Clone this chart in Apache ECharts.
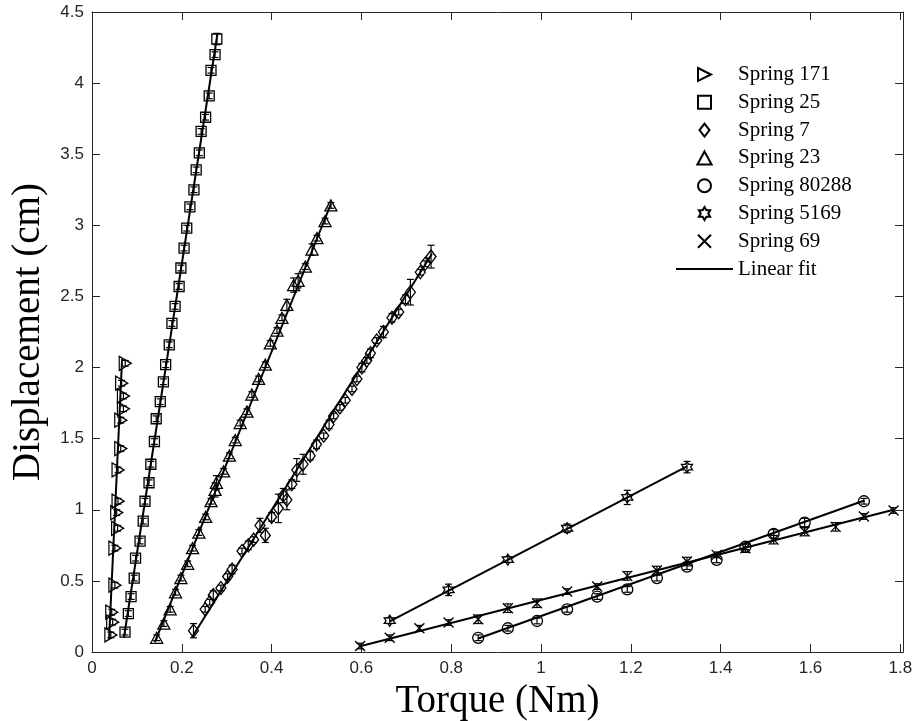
<!DOCTYPE html>
<html>
<head>
<meta charset="utf-8">
<script src="https://cdn.jsdelivr.net/npm/echarts@6/dist/echarts.min.js"></script>
<style>
  html, body { margin: 0; padding: 0; background: #fff; }
  #chart { width: 915px; height: 721px; }
</style>
</head>
<body>
<div id="chart"></div>
<script>
// each point: [torque, displacement, error]
var spring171 = [
  [0.042, 0.12, 0.02], [0.046, 0.21, 0.02], [0.044, 0.28, 0.02], [0.051, 0.47, 0.02],
  [0.051, 0.73, 0.02], [0.057, 0.87, 0.02], [0.055, 0.98, 0.02], [0.058, 1.06, 0.02],
  [0.058, 1.28, 0.02], [0.064, 1.43, 0.02], [0.064, 1.63, 0.02], [0.070, 1.71, 0.02],
  [0.070, 1.80, 0.02], [0.066, 1.89, 0.02], [0.074, 2.03, 0.02]
];
var spring25 = [
  [0.0735, 0.14, 0.02], [0.081, 0.27, 0.02], [0.087, 0.39, 0.02], [0.094, 0.52, 0.02],
  [0.097, 0.66, 0.02], [0.107, 0.78, 0.02], [0.114, 0.92, 0.02], [0.118, 1.06, 0.02],
  [0.127, 1.19, 0.02], [0.131, 1.32, 0.02], [0.139, 1.48, 0.02], [0.143, 1.64, 0.02],
  [0.152, 1.76, 0.02], [0.159, 1.90, 0.02], [0.164, 2.02, 0.02], [0.172, 2.16, 0.02],
  [0.178, 2.31, 0.02], [0.185, 2.43, 0.02], [0.194, 2.57, 0.02], [0.198, 2.70, 0.02],
  [0.205, 2.84, 0.02], [0.211, 2.98, 0.02], [0.218, 3.13, 0.02], [0.227, 3.25, 0.02],
  [0.232, 3.39, 0.02], [0.239, 3.51, 0.02], [0.243, 3.66, 0.02], [0.253, 3.76, 0.02],
  [0.261, 3.91, 0.02], [0.265, 4.09, 0.02], [0.274, 4.20, 0.02], [0.278, 4.31, 0.04]
];
var spring7 = [
  [0.226, 0.15, 0.05], [0.252, 0.30, 0.02], [0.262, 0.35, 0.02], [0.270, 0.40, 0.03],
  [0.287, 0.45, 0.02], [0.302, 0.53, 0.02], [0.312, 0.58, 0.03], [0.334, 0.71, 0.02],
  [0.348, 0.75, 0.03], [0.360, 0.79, 0.02], [0.374, 0.89, 0.05], [0.386, 0.82, 0.05],
  [0.400, 0.95, 0.03], [0.415, 1.01, 0.10], [0.426, 1.10, 0.05], [0.434, 1.07, 0.07],
  [0.445, 1.18, 0.03], [0.456, 1.28, 0.08], [0.470, 1.32, 0.07], [0.486, 1.38, 0.03],
  [0.500, 1.46, 0.03], [0.516, 1.52, 0.02], [0.528, 1.60, 0.03], [0.538, 1.66, 0.02],
  [0.552, 1.72, 0.02], [0.564, 1.77, 0.02], [0.579, 1.85, 0.02], [0.590, 1.92, 0.02],
  [0.601, 2.00, 0.03], [0.612, 2.05, 0.02], [0.620, 2.10, 0.03], [0.634, 2.19, 0.02],
  [0.649, 2.25, 0.04], [0.668, 2.35, 0.03], [0.683, 2.39, 0.02], [0.698, 2.48, 0.03],
  [0.709, 2.53, 0.09], [0.731, 2.67, 0.02], [0.742, 2.73, 0.02], [0.755, 2.78, 0.08]
];
var spring23 = [
  [0.144, 0.10, 0.02], [0.160, 0.20, 0.02], [0.174, 0.30, 0.02], [0.186, 0.42, 0.02],
  [0.198, 0.52, 0.02], [0.213, 0.62, 0.02], [0.224, 0.73, 0.02], [0.238, 0.84, 0.02],
  [0.253, 0.95, 0.02], [0.265, 1.06, 0.02], [0.274, 1.14, 0.05], [0.277, 1.19, 0.05],
  [0.293, 1.27, 0.02], [0.306, 1.38, 0.02], [0.319, 1.49, 0.02], [0.330, 1.61, 0.02],
  [0.345, 1.69, 0.02], [0.356, 1.81, 0.02], [0.371, 1.92, 0.02], [0.386, 2.02, 0.02],
  [0.397, 2.17, 0.02], [0.412, 2.26, 0.02], [0.423, 2.35, 0.02], [0.434, 2.44, 0.04],
  [0.449, 2.58, 0.05], [0.459, 2.61, 0.05], [0.475, 2.71, 0.02], [0.490, 2.83, 0.04],
  [0.501, 2.91, 0.02], [0.519, 3.03, 0.02], [0.532, 3.14, 0.02]
];
var spring80288 = [
  [0.860, 0.10, 0.02], [0.926, 0.167, 0.02], [0.991, 0.218, 0.02], [1.058, 0.30, 0.02],
  [1.125, 0.39, 0.02], [1.192, 0.44, 0.02], [1.258, 0.52, 0.02], [1.325, 0.60, 0.02],
  [1.391, 0.648, 0.02], [1.455, 0.74, 0.02], [1.518, 0.83, 0.03], [1.587, 0.91, 0.03],
  [1.719, 1.06, 0.02]
];
var spring5169 = [
  [0.663, 0.22, 0.02], [0.794, 0.437, 0.04], [0.926, 0.65, 0.02], [1.058, 0.87, 0.03],
  [1.192, 1.087, 0.05], [1.325, 1.30, 0.04]
];
var spring69 = [
  [0.597, 0.042, 0.02], [0.663, 0.10, 0.02], [0.729, 0.167, 0.02], [0.794, 0.207, 0.02],
  [0.860, 0.23, 0.03], [0.926, 0.308, 0.03], [0.991, 0.343, 0.03], [1.058, 0.425, 0.02],
  [1.125, 0.46, 0.02], [1.192, 0.535, 0.03], [1.258, 0.573, 0.03], [1.325, 0.636, 0.03],
  [1.391, 0.683, 0.02], [1.455, 0.73, 0.03], [1.518, 0.79, 0.03], [1.587, 0.847, 0.03],
  [1.656, 0.88, 0.03], [1.719, 0.953, 0.02], [1.785, 0.995, 0.02]
];

// linear fit end points
var fit171 = [[0.038, 0.09], [0.067, 2.06]];
var fit25 = [[0.071, 0.10], [0.279, 4.34]];
var fit7 = [[0.222, 0.10], [0.757, 2.80]];
var fit23 = [[0.140, 0.07], [0.532, 3.15]];
var fit80288 = [[0.860, 0.095], [1.720, 1.065]];
var fit5169 = [[0.663, 0.215], [1.325, 1.305]];
var fit69 = [[0.597, 0.040], [1.785, 1.000]];

var springNames = ["Spring 171", "Spring 25", "Spring 7", "Spring 23", "Spring 80288", "Spring 5169", "Spring 69"];

var sym = {
  right: "path://M0,0L10,5L0,10Z",
  square: "path://M0,0L10,0L10,10L0,10Z",
  diamond: "path://M5,0L10,6.5L5,13L0,6.5Z",
  triangle: "path://M6,0L12,11L0,11Z",
  hexagram: "path://M5,0L6.443,2.5L9.33,2.5L7.887,5L9.33,7.5L6.443,7.5L5,10L3.557,7.5L0.67,7.5L2.113,5L0.67,2.5L3.557,2.5Z",
  cross: "path://M0,0L10,10M10,0L0,10"
};

var axisColor = "#262626";
var serif = "Liberation Serif";

function errSeries(name, data) {
  return {
    name: name,
    type: "custom",
    data: data,
    encode: { x: 0, y: 1 },
    z: 2,
    silent: true,
    renderItem: function (params, api) {
      var x = api.value(0), y = api.value(1), e = api.value(2);
      var top = api.coord([x, y + e]);
      var bot = api.coord([x, y - e]);
      var w = 3.5;
      var st = { stroke: "#000", lineWidth: 1.2 };
      return {
        type: "group",
        children: [
          { type: "line", shape: { x1: top[0], y1: top[1], x2: bot[0], y2: bot[1] }, style: st },
          { type: "line", shape: { x1: top[0] - w, y1: top[1], x2: top[0] + w, y2: top[1] }, style: st },
          { type: "line", shape: { x1: bot[0] - w, y1: bot[1], x2: bot[0] + w, y2: bot[1] }, style: st }
        ]
      };
    }
  };
}

function pointSeries(name, data, symbol, size) {
  return {
    name: name,
    type: "scatter",
    data: data,
    symbol: symbol,
    symbolSize: size,
    z: 4,
    itemStyle: { color: "rgba(255,255,255,0)", borderColor: "#000", borderWidth: 1.3, opacity: 1 }
  };
}

function fitSeries(data) {
  return {
    name: "Linear fit",
    type: "line",
    data: data,
    symbol: "none",
    z: 3,
    lineStyle: { color: "#000", width: 2 },
    // keeps the legend icon a plain line
    itemStyle: { color: "rgba(0,0,0,0)" }
  };
}

var chart = echarts.init(document.getElementById("chart"));

var tickFmt = function (v) {
  var k = v / 0.2;
  if (Math.abs(k - Math.round(k)) > 1e-6) return "";
  return String(+v.toFixed(1));
};

var option = {
  animation: false,
  backgroundColor: "#fff",
  // fixed plot box, the big axis names must not shrink it
  grid: { left: 92, right: 12, top: 12, bottom: 69, containLabel: false, outerBoundsMode: "none" },
  legend: {
    orient: "vertical",
    left: 675,
    top: 64,
    padding: 0,
    itemWidth: 57,
    itemHeight: 13,
    itemGap: 6.8,
    textStyle: { fontFamily: serif, fontSize: 21, color: "#000", lineHeight: 21 },
    data: springNames.concat(["Linear fit"])
  },
  xAxis: [
    {
      type: "value",
      min: 0,
      max: 1.806,
      interval: 0.2,
      name: "Torque (Nm)",
      nameLocation: "middle",
      nameGap: 30,
      nameTextStyle: { fontFamily: serif, fontSize: 39, color: "#000" },
      axisLine: { show: true, onZero: false, lineStyle: { color: axisColor, width: 1 } },
      axisTick: { show: true, inside: true, length: 8, lineStyle: { color: axisColor } },
      axisLabel: { margin: 8, fontSize: 17, fontFamily: "Liberation Sans", color: axisColor, formatter: tickFmt },
      splitLine: { show: false }
    },
    {
      type: "value",
      position: "top",
      min: 0,
      max: 1.806,
      interval: 0.2,
      axisLine: { show: true, onZero: false, lineStyle: { color: axisColor, width: 1 } },
      axisTick: { show: true, inside: true, length: 8, lineStyle: { color: axisColor } },
      axisLabel: { show: false },
      splitLine: { show: false }
    }
  ],
  yAxis: [
    {
      type: "value",
      min: 0,
      max: 4.5,
      interval: 0.5,
      name: "Displacement (cm)",
      nameLocation: "middle",
      nameGap: 44,
      nameTextStyle: { fontFamily: serif, fontSize: 39, color: "#000" },
      axisLine: { show: true, onZero: false, lineStyle: { color: axisColor, width: 1 } },
      axisTick: { show: true, inside: true, length: 8, lineStyle: { color: axisColor } },
      axisLabel: { margin: 8, fontSize: 17, fontFamily: "Liberation Sans", color: axisColor },
      splitLine: { show: false }
    },
    {
      type: "value",
      position: "right",
      min: 0,
      max: 4.5,
      interval: 0.5,
      axisLine: { show: true, onZero: false, lineStyle: { color: axisColor, width: 1 } },
      axisTick: { show: true, inside: true, length: 8, lineStyle: { color: axisColor } },
      axisLabel: { show: false },
      splitLine: { show: false }
    }
  ],
  series: [
    errSeries("e171", spring171),
    errSeries("e25", spring25),
    errSeries("e7", spring7),
    errSeries("e23", spring23),
    errSeries("e80288", spring80288),
    errSeries("e5169", spring5169),
    errSeries("e69", spring69),
    fitSeries(fit171),
    fitSeries(fit25),
    fitSeries(fit7),
    fitSeries(fit23),
    fitSeries(fit80288),
    fitSeries(fit5169),
    fitSeries(fit69),
    pointSeries("Spring 171", spring171, sym.right, [12, 14]),
    pointSeries("Spring 25", spring25, sym.square, 10),
    pointSeries("Spring 7", spring7, sym.diamond, [10, 13]),
    pointSeries("Spring 23", spring23, sym.triangle, [12, 11]),
    pointSeries("Spring 80288", spring80288, "circle", 11),
    pointSeries("Spring 5169", spring5169, sym.hexagram, 11),
    pointSeries("Spring 69", spring69, sym.cross, 10)
  ]
};

chart.setOption(option);
window.addEventListener("resize", function () {
  chart.resize();
});
</script>
</body>
</html>
